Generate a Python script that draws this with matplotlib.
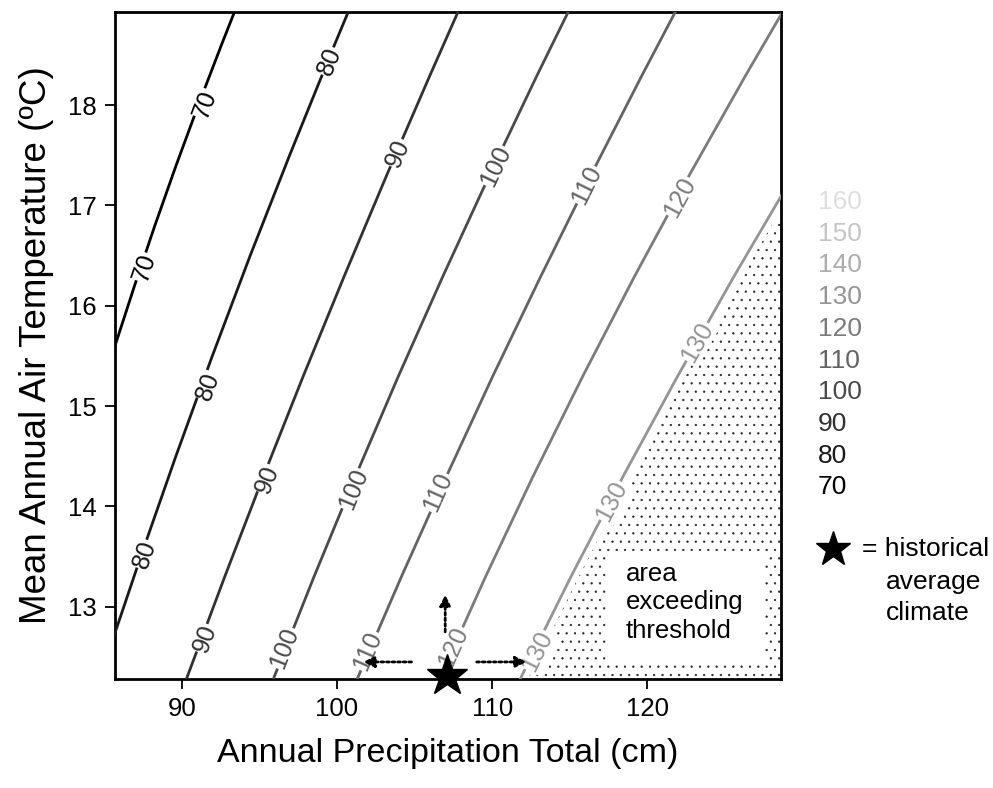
import numpy as np
import matplotlib.pyplot as plt
from matplotlib.patches import Polygon, Rectangle

plt.rcParams['font.family'] = ['Liberation Sans', 'DejaVu Sans']
plt.rcParams['hatch.linewidth'] = 0.4

# contour lines: precipitation (cm) / temperature (C)
c70_p = [85.4, 85.7, 86.96, 88.27, 89.64, 91.07, 92.56, 93.4, 93.7]
c70_t = [15.45, 15.6, 16.2, 16.8, 17.4, 18.0, 18.6, 18.93, 19.05]
c80_p = [85.4, 85.7, 87.36, 89.62, 91.97, 94.41, 96.95, 99.57, 100.73, 101.1]
c80_t = [12.6, 12.74, 13.5, 14.5, 15.5, 16.5, 17.5, 18.5, 18.93, 19.08]
c90_p = [90.1, 90.3, 92.77, 95.26, 97.83, 100.48, 103.2, 106.0, 107.8, 108.3]
c90_t = [12.2, 12.28, 13.3, 14.3, 15.3, 16.3, 17.3, 18.3, 18.93, 19.1]
c100_p = [95.7, 95.9, 98.52, 101.19, 103.96, 106.84, 109.82, 112.9, 114.9, 115.4]
c100_t = [12.2, 12.28, 13.3, 14.3, 15.3, 16.3, 17.3, 18.3, 18.93, 19.08]
c110_p = [101.1, 101.3, 104.15, 107.05, 110.04, 113.15, 116.35, 119.66, 121.8, 122.4]
c110_t = [12.2, 12.28, 13.3, 14.3, 15.3, 16.3, 17.3, 18.3, 18.93, 19.1]
c120_p = [106.3, 106.6, 109.57, 112.63, 115.84, 119.19, 122.69, 126.34, 128.6, 129.3]
c120_t = [12.2, 12.28, 13.3, 14.3, 15.3, 16.3, 17.3, 18.3, 18.9, 19.08]
c130_p = [111.5, 111.8, 115.07, 118.43, 121.95, 125.6, 128.6, 129.3]
c130_t = [12.2, 12.28, 13.3, 14.3, 15.3, 16.3, 17.09, 17.28]

levels = [70, 80, 90, 100, 110, 120, 130]

# inline label spots (P, T)
lab70 = [(87.6, 16.38), (91.5, 18.01)]
lab80 = [(87.6, 13.52), (91.7, 15.2), (99.55, 18.43)]
lab90 = [(91.5, 12.68), (95.5, 14.27), (103.9, 17.52)]
lab100 = [(96.6, 12.59), (101.05, 14.17), (110.2, 17.39)]
lab110 = [(102.0, 12.56), (106.5, 14.14), (116.1, 17.2)]
lab120 = [(107.5, 12.6), (122.1, 17.08)]
lab130 = [(112.9, 12.56), (117.7, 14.05), (123.2, 15.64)]

legend_levels = [160, 150, 140, 130, 120, 110, 100, 90, 80, 70]

hist_p, hist_t = 107.1, 12.31

W, H = 993, 788

def gray(lev):
    g = (lev - 70) / 90 * 0.87
    return (g, g, g)

fig = plt.figure(figsize=(W / 100, H / 100), dpi=100)
ax = fig.add_axes([115 / W, 1 - 679 / H, (781 - 115) / W, (679 - 11.7) / H])
ax.set_xlim(85.7, 128.6)
ax.set_ylim(12.28, 18.93)

lines_p = [c70_p, c80_p, c90_p, c100_p, c110_p, c120_p, c130_p]
lines_t = [c70_t, c80_t, c90_t, c100_t, c110_t, c120_t, c130_t]
labels = [lab70, lab80, lab90, lab100, lab110, lab120, lab130]

# dotted area beyond the 130 contour (kept a little off the line)
poly = [(p + 0.5, t) for p, t in zip(c130_p, c130_t)] + [(129.8, 12.2)]
ax.add_patch(Polygon(poly, closed=True, facecolor='white', edgecolor='#222222',
                     linewidth=0, hatch='..', zorder=1))
ax.add_patch(Rectangle((117.3, 12.44), 10.2, 1.12, facecolor='white',
                       edgecolor='none', zorder=1.5))
ax.text(118.6, 13.45, 'area\nexceeding\nthreshold', fontsize=18.5,
        va='top', ha='left', zorder=2, linespacing=1.25)

for lev, ps, ts, labs in zip(levels, lines_p, lines_t, labels):
    col = gray(lev)
    ax.plot(ps, ts, color=col, lw=2.0, zorder=3, solid_capstyle='butt')
    for lp, lt in labs:
        # local direction of the line in screen space
        p1 = np.interp(lt - 0.1, ts, ps)
        p2 = np.interp(lt + 0.1, ts, ps)
        a = ax.transData.transform((p1, lt - 0.1))
        b = ax.transData.transform((p2, lt + 0.1))
        ang = np.degrees(np.arctan2(b[1] - a[1], b[0] - a[0]))
        ax.text(lp, lt, str(lev), rotation=ang, rotation_mode='anchor',
                ha='center', va='center', fontsize=18, color=col, zorder=4,
                bbox=dict(facecolor='white', edgecolor='none', pad=0.5))

# historical climate and its arrows
arr = dict(arrowstyle='-|>', linestyle=(0, (1, 1)), lw=2, color='black',
           mutation_scale=16, shrinkA=0, shrinkB=0)
ax.annotate('', xy=(101.7, 12.45), xytext=(104.8, 12.45), arrowprops=arr, zorder=5)
ax.annotate('', xy=(112.2, 12.45), xytext=(109.0, 12.45), arrowprops=arr, zorder=5)
ax.annotate('', xy=(106.97, 13.12), xytext=(106.97, 12.75), arrowprops=arr, zorder=5)
ax.plot(hist_p, hist_t, marker='*', ms=31, color='black', clip_on=False, zorder=6)

ax.set_xticks([90, 100, 110, 120])
ax.set_yticks([13, 14, 15, 16, 17, 18])
ax.tick_params(direction='out', length=7, width=1.3, labelsize=18.5, pad=6)
for s in ax.spines.values():
    s.set_linewidth(2)
ax.set_xlabel('Annual Precipitation Total (cm)', fontsize=24.5, labelpad=12)
ax.set_ylabel('Mean Annual Air Temperature (ºC)', fontsize=26.5, labelpad=10)

# level legend at right
for i, lev in enumerate(legend_levels):
    fig.text(818 / W, 1 - (202 + i * 31.7) / H, str(lev), fontsize=19,
             color=gray(lev), ha='left', va='center')

ax.plot([833 / W], [1 - 549 / H], marker='*', ms=26, color='black',
        transform=fig.transFigure, clip_on=False)
fig.text(862 / W, 1 - 549 / H, '= historical', fontsize=19, va='center')
fig.text(886 / W, 1 - 582 / H, 'average', fontsize=19, va='center')
fig.text(886 / W, 1 - 613 / H, 'climate', fontsize=19, va='center')

fig.savefig('out.png', dpi=100)
